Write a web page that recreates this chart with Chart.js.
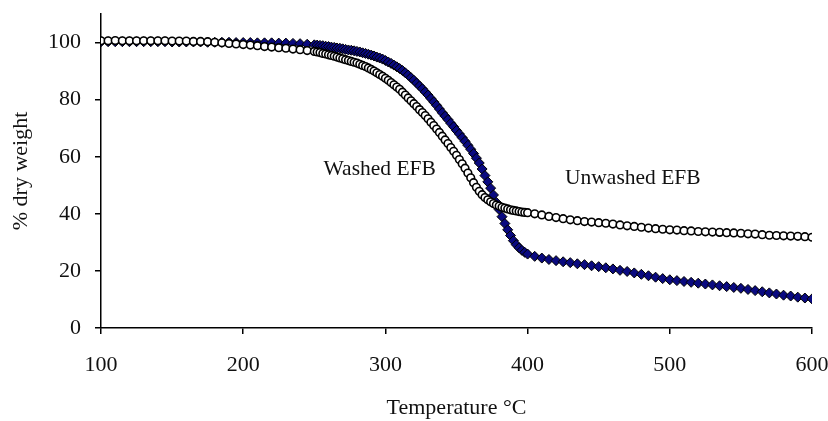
<!DOCTYPE html>
<html>
<head>
<meta charset="utf-8">
<script src="https://cdn.jsdelivr.net/npm/chart.js@4/dist/chart.umd.min.js"></script>
<style>
  body { margin: 0; background: #fff; }
  #wrap { width: 828px; height: 421px; }
</style>
</head>
<body>
<div id="wrap"><canvas id="tgaChart" width="828" height="421"></canvas></div>
<script>
// Temperatures (°C) shared by both curves
const temps = [
  100,105,110,115,120,125,130,135,140,145,150,155,160,165,170,175,180,185,190,195,
  200,205,210,215,220,225,230,235,240,245,250,
  252,254,256,258,260,262,264,266,268,270,272,274,276,278,280,282,284,286,288,290,
  292,294,296,298,300,302,304,306,308,310,312,314,316,318,320,322,324,326,328,330,
  332,334,336,338,340,342,344,346,348,350,352,354,356,358,360,362,364,366,368,370,
  372,374,376,378,380,382,384,386,388,390,392,394,396,398,400,
  405,410,415,420,425,430,435,440,445,450,455,460,465,470,475,480,485,490,495,500,
  505,510,515,520,525,530,535,540,545,550,555,560,565,570,575,580,585,590,595,600
];

// % dry weight, diamonds
const washedEFB = [
  100.3,100.3,100.3,100.3,100.3,100.3,100.3,100.3,100.3,100.3,100.2,100.2,100.2,100.2,100.2,
  100.1,100.1,100.1,100.1,100.0,100.0,100.0,99.9,99.9,99.9,99.8,99.8,99.7,99.6,99.4,99.2,
  99.1,99.0,98.9,98.7,98.6,98.4,98.3,98.1,98.0,97.8,97.6,97.4,97.3,97.1,96.9,96.7,96.4,96.2,95.9,95.6,
  95.3,94.9,94.6,94.2,93.7,93.2,92.7,92.1,91.5,90.9,90.2,89.4,88.6,87.7,86.8,85.8,84.8,83.8,82.7,81.6,
  80.4,79.2,78.0,76.7,75.4,74.2,73.0,71.7,70.5,69.2,68.0,66.7,65.4,64.0,62.6,61.1,59.5,57.8,55.7,53.4,
  51.2,49.0,46.6,44.0,41.5,39.0,36.6,34.4,32.4,30.6,29.2,28.1,27.2,26.5,25.9,
  25.1,24.5,24.0,23.6,23.2,22.9,22.5,22.2,21.8,21.5,21.1,20.7,20.2,19.8,19.3,18.8,18.3,17.8,17.3,16.9,
  16.6,16.3,16.0,15.7,15.4,15.1,14.8,14.5,14.2,13.9,13.5,13.1,12.7,12.3,11.9,11.5,11.2,10.8,10.5,10.2
];

// % dry weight, open circles
const unwashedEFB = [
  100.6,100.6,100.7,100.6,100.6,100.6,100.6,100.6,100.6,100.6,100.5,100.5,100.5,100.4,100.4,
  100.3,100.1,99.9,99.7,99.5,99.3,99.1,98.9,98.6,98.4,98.2,98.0,97.7,97.5,97.2,96.9,
  96.7,96.5,96.2,96.0,95.7,95.5,95.2,94.9,94.6,94.3,94.0,93.7,93.4,93.1,92.8,92.4,92.0,91.6,91.1,90.6,
  90.0,89.4,88.8,88.2,87.5,86.8,86.0,85.2,84.4,83.6,82.6,81.6,80.6,79.6,78.6,77.6,76.5,75.5,74.4,73.3,
  72.1,70.9,69.7,68.5,67.2,65.9,64.6,63.2,61.9,60.5,59.0,57.5,56.0,54.3,52.6,50.9,49.3,47.9,46.7,45.7,
  44.9,44.2,43.6,43.1,42.7,42.3,42.0,41.7,41.4,41.2,41.0,40.8,40.6,40.5,40.4,
  40.0,39.6,39.1,38.7,38.3,37.9,37.6,37.3,37.1,36.9,36.7,36.4,36.1,35.8,35.6,35.3,35.0,34.8,34.6,34.4,
  34.3,34.1,34.0,33.8,33.7,33.6,33.5,33.4,33.3,33.2,33.0,32.9,32.7,32.5,32.4,32.3,32.2,32.1,32.0,31.8
];

// in-plot labels, placed in data units
const labelTexts = ['Washed EFB', 'Unwashed EFB'];
const labelX = [296, 474];
const labelY = [55.6, 52.5];

const FONT = '"Liberation Serif", "Times New Roman", serif';

function toPoints(xs, ys) {
  return xs.map((x, i) => ({ x: x, y: ys[i] }));
}

const curveLabels = {
  id: 'curveLabels',
  afterDatasetsDraw(chart) {
    const ctx = chart.ctx;
    const xs = chart.scales.x, ys = chart.scales.y;
    ctx.save();
    ctx.font = '21.5px ' + FONT;
    ctx.fillStyle = '#111';
    ctx.textAlign = 'center';
    ctx.textBaseline = 'middle';
    labelTexts.forEach((t, i) => {
      ctx.fillText(t, xs.getPixelForValue(labelX[i]), ys.getPixelForValue(labelY[i]));
    });
    ctx.restore();
  }
};

new Chart(document.getElementById('tgaChart'), {
  type: 'scatter',
  data: {
    datasets: [
      {
        label: 'Unwashed EFB',
        data: toPoints(temps, unwashedEFB),
        pointStyle: 'circle',
        pointRadius: 3.8,
        backgroundColor: '#fff',
        borderColor: '#000',
        borderWidth: 1.6,
        showLine: false
      },
      {
        label: 'Washed EFB',
        data: toPoints(temps, washedEFB),
        pointStyle: 'rectRot',
        pointRadius: 5,
        backgroundColor: '#0a0a80',
        borderColor: '#000',
        borderWidth: 1,
        showLine: false
      }
    ]
  },
  options: {
    responsive: false,
    animation: false,
    events: [],
    layout: { padding: { top: 14, right: 16, left: 0, bottom: 0 } },
    plugins: {
      legend: { display: false },
      tooltip: { enabled: false }
    },
    scales: {
      x: {
        type: 'linear',
        min: 100,
        max: 600,
        border: { display: true, color: '#000', width: 1.5 },
        grid: { display: true, drawOnChartArea: false, drawTicks: true, tickLength: 6, color: '#000', lineWidth: 1.5 },
        ticks: { stepSize: 100, padding: 18, color: '#111', font: { family: FONT, size: 22 } },
        title: { display: true, text: 'Temperature °C', color: '#111', padding: { top: 0, bottom: 0 }, font: { family: FONT, size: 22 } },
        afterFit(scale) { scale.height = 93; scale.paddingLeft = 0; scale.paddingRight = 0; }
      },
      y: {
        min: 0,
        max: 110,
        border: { display: true, color: '#000', width: 1.5 },
        grid: { display: true, drawOnChartArea: false, drawTicks: true, tickLength: 6, color: '#000', lineWidth: 1.5 },
        ticks: { stepSize: 20, padding: 14, color: '#111', font: { family: FONT, size: 22 } },
        afterBuildTicks(scale) { scale.ticks = scale.ticks.filter(t => t.value <= 100); },
        title: { display: true, text: '% dry weight', color: '#111', padding: { top: 8, bottom: 0 }, font: { family: FONT, size: 22 } },
        afterFit(scale) { scale.width = 101; scale.paddingTop = 0; scale.paddingBottom = 0; }
      }
    }
  },
  plugins: [curveLabels]
});
</script>
</body>
</html>
